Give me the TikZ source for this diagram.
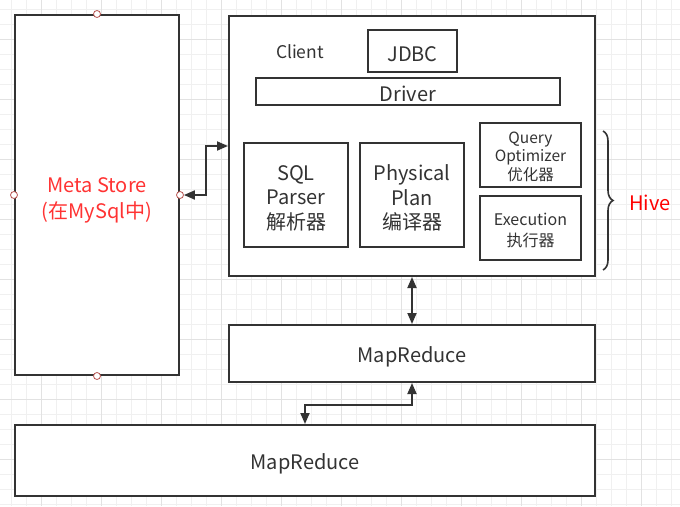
\documentclass[tikz,border=0pt]{standalone}
\usepackage{fontspec}
\setmainfont{Noto Sans CJK SC}
\usetikzlibrary{positioning,arrows.meta,decorations.pathreplacing}
\definecolor{LineDark}{HTML}{333333}
\definecolor{GridMinor}{HTML}{F0F0F0}
\definecolor{GridMajor}{HTML}{E2E2E2}
\definecolor{MetaRed}{HTML}{FF3333}
\definecolor{HiveRed}{HTML}{FF0000}
\definecolor{PortRed}{HTML}{B85450}

\tikzset{
  block/.style={draw=LineDark,line width=2pt,fill=white,text=LineDark,align=center,inner sep=0pt,
    execute at begin node={\rule{0pt}{1.1em}},execute at end node={\rule[-0.1em]{0pt}{0.1em}}},
  stacktext/.style={text=LineDark,align=center,yshift=-3pt},
  link/.style={LineDark,line width=1.8pt,{Triangle[length=11pt,width=9pt]}-{Triangle[length=11pt,width=9pt]}},
  port/.style={circle,draw=PortRed,fill=white,line width=0.8pt,minimum size=7pt,inner sep=0pt},
  big/.style={font=\fontsize{20}{24.5}\selectfont},
}

\begin{document}
\begin{tikzpicture}[x=1pt,y=-1pt]
  \useasboundingbox (0,0) rectangle (680,506);
  \fill[white] (0,0) rectangle (680,506);
  % background grid
  \foreach \x in {11,26,...,671} \draw[GridMinor,line width=1pt] (\x,0) -- (\x,506);
  \foreach \y in {9,24,...,504} \draw[GridMinor,line width=1pt] (0,\y) -- (680,\y);
  \foreach \x in {41,101,...,641} \draw[GridMajor,line width=1pt] (\x,0) -- (\x,506);
  \foreach \y in {39,99,...,459} \draw[GridMajor,line width=1pt] (0,\y) -- (680,\y);

  % meta store
  \node[block,minimum width=164pt,minimum height=360pt,
    label={[stacktext,big,text=MetaRed,yshift=-2.5pt]center:Meta Store\\[2pt](在MySql中)}] (metastore) at (97,195) {};
  \foreach \a in {north,south,east,west} \node[port] (port-\a) at (metastore.\a) {};

  % hive
  \node[block,minimum width=366pt,minimum height=260pt] (hive) at (412,146) {};
  \node[text=LineDark,font=\fontsize{17.5}{20}\selectfont] (client) at (300,51.5) {Client};
  \node[block,big,minimum width=89pt,minimum height=42pt] (jdbc) at (412.5,51) {JDBC};
  \node[block,big,minimum width=304pt,minimum height=27pt] (driver) at (408,91) {Driver};
  \node[block,minimum width=104pt,minimum height=104pt,
    label={[stacktext,big]center:SQL\\Parser\\解析器}] (parser) at (296,195) {};
  \node[block,minimum width=104pt,minimum height=104pt,
    label={[stacktext,big]center:Physical\\Plan\\编译器}] (plan) at (412,195) {};
  \node[block,minimum width=101pt,minimum height=64pt,
    label={[stacktext,font=\fontsize{15.5}{18.5}\selectfont,yshift=1.5pt]center:Query\\Optimizer\\优化器}] (optimizer) at (530.5,155) {};
  \node[block,minimum width=101pt,minimum height=64pt,
    label={[stacktext,font=\fontsize{16}{21}\selectfont,yshift=1pt]center:Execution\\执行器}] (execution) at (530.5,228) {};
  \draw[LineDark,line width=1.6pt,decorate,decoration={brace,amplitude=10pt}] (603,131) -- (603,270);
  \node[big,text=HiveRed] (hivelabel) at (650,203) {Hive};

  % mapreduce
  \node[block,big,minimum width=366pt,minimum height=57pt] (mrup) at (412,353.5) {MapReduce};
  \node[block,big,minimum width=580pt,minimum height=71pt] (mrlow) at (305,460.5) {MapReduce};

  % connectors
  \draw[link] (port-east) -- ++(26,0) |- (hive.west);
  \draw[link] (hive.south) -- (mrup.north);
  \draw[link] (mrup.south) -- ++(0,22) -| (mrlow.north);
\end{tikzpicture}
\end{document}
